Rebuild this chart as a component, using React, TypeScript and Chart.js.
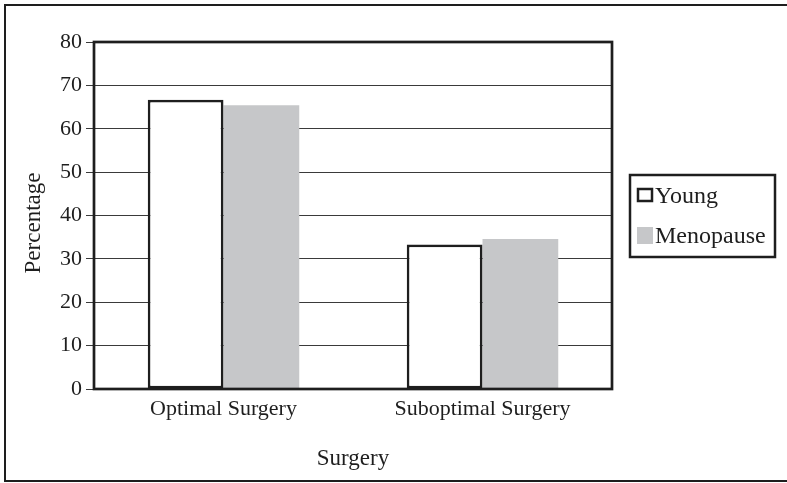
import React, { useEffect, useRef } from 'react';
import { Chart, registerables } from 'chart.js';

Chart.register(...registerables);

// ---- data ----
const categories = ['Optimal Surgery', 'Suboptimal Surgery'];
const seriesNames = ['Young', 'Menopause'];
const youngValues = [66.7, 33.3];
const menopauseValues = [65.4, 34.6];
const yTicks = [0, 10, 20, 30, 40, 50, 60, 70, 80];
const yTitle = 'Percentage';
const xTitle = 'Surgery';

const FONT = '"Liberation Serif", "Times New Roman", serif';
const INK = '#1e1e1e';
const GRID = '#3a3a3a';
const GRAY = '#c6c7c9';

const decorPlugin = {
  id: 'decor',
  afterDatasetsDraw(chart: any) {
    const { ctx, chartArea } = chart;
    ctx.save();
    // plot frame
    ctx.strokeStyle = INK;
    ctx.lineWidth = 2.7;
    ctx.strokeRect(chartArea.left, chartArea.top, chartArea.right - chartArea.left, chartArea.bottom - chartArea.top);
    ctx.restore();
  },
  afterDraw(chart: any) {
    const { ctx, chartArea } = chart;
    ctx.save();
    // outer border (right side runs off the picture)
    ctx.strokeStyle = INK;
    ctx.lineWidth = 2;
    ctx.strokeRect(5, 5, 800, 476);

    // axis titles
    ctx.fillStyle = INK;
    ctx.font = `23px ${FONT}`;
    ctx.textAlign = 'center';
    ctx.textBaseline = 'alphabetic';
    ctx.fillText(xTitle, (chartArea.left + chartArea.right) / 2, 465);
    ctx.save();
    ctx.translate(40, 223);
    ctx.rotate(-Math.PI / 2);
    ctx.fillText(yTitle, 0, 0);
    ctx.restore();

    // legend
    ctx.lineWidth = 2.5;
    ctx.strokeStyle = INK;
    ctx.strokeRect(630, 175, 145, 82);
    const ds = chart.data.datasets;
    // Young swatch
    ctx.fillStyle = ds[0].backgroundColor;
    ctx.fillRect(638, 189, 14, 12);
    ctx.lineWidth = 2.5;
    ctx.strokeStyle = ds[0].borderColor;
    ctx.strokeRect(638, 189, 14, 12);
    // Menopause swatch
    ctx.fillStyle = ds[1].backgroundColor;
    ctx.fillRect(637, 227, 16, 17);

    ctx.fillStyle = INK;
    ctx.font = `24px ${FONT}`;
    ctx.textAlign = 'left';
    ctx.fillText(ds[0].label, 655, 203);
    ctx.fillText(ds[1].label, 655, 243);
    ctx.restore();
  },
};

export default function App() {
  const ref = useRef<HTMLCanvasElement | null>(null);

  useEffect(() => {
    if (!ref.current) return;
    const chart = new Chart(ref.current, {
      type: 'bar',
      data: {
        labels: categories,
        datasets: [
          {
            label: seriesNames[0],
            data: youngValues,
            backgroundColor: '#ffffff',
            borderColor: INK,
            borderWidth: 2.7,
            borderSkipped: false,
            categoryPercentage: 0.585,
            barPercentage: 1.0,
          },
          {
            label: seriesNames[1],
            data: menopauseValues,
            backgroundColor: GRAY,
            borderWidth: 0,
            categoryPercentage: 0.585,
            barPercentage: 1.0,
          },
        ],
      },
      options: {
        responsive: false,
        animation: false,
        devicePixelRatio: 1,
        layout: { padding: { left: 0, top: 42, right: 175, bottom: 0 } },
        plugins: {
          legend: { display: false },
          tooltip: { enabled: false },
          title: { display: false },
        },
        scales: {
          x: {
            grid: { display: false, drawTicks: false },
            border: { display: false },
            ticks: {
              color: INK,
              font: { family: FONT, size: 22 },
              padding: 7,
              maxRotation: 0,
            },
            afterFit: (s: any) => {
              s.height = 94;
            },
          },
          y: {
            min: 0,
            max: 80,
            afterBuildTicks: (s: any) => {
              s.ticks = yTicks.map((v) => ({ value: v }));
            },
            grid: {
              color: GRID,
              lineWidth: 1,
              tickLength: 8,
              drawTicks: true,
            },
            border: { display: false },
            ticks: {
              color: INK,
              font: { family: FONT, size: 22 },
              padding: 4,
            },
            afterFit: (s: any) => {
              s.width = 94;
            },
          },
        },
      },
      plugins: [decorPlugin],
    });
    return () => chart.destroy();
  }, []);

  return (
    <div style={{ position: 'fixed', left: 0, top: 0, width: 787, height: 483, background: '#fff' }}>
      <canvas ref={ref} width={787} height={483} style={{ display: 'block', width: 787, height: 483 }} />
    </div>
  );
}
